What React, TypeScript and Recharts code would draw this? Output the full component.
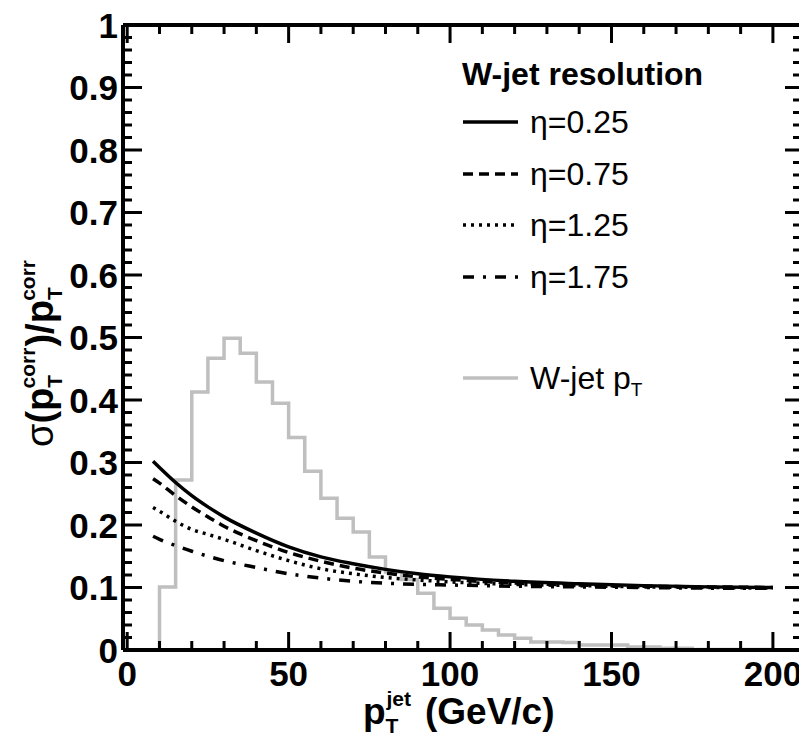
import { ComposedChart, Legend, Line, XAxis, YAxis } from "recharts";

const FONT = '"Liberation Sans", Arial, Helvetica, sans-serif';

// W-jet pT spectrum: lower edge of each 5 GeV/c bin and the grey histogram height
const histBinLow = [
  0, 5, 10, 15, 20, 25, 30, 35, 40, 45, 50, 55, 60, 65, 70, 75, 80, 85, 90, 95,
  100, 105, 110, 115, 120, 125, 130, 135, 140, 145, 150, 155, 160, 165, 170, 175, 180, 185, 190, 195,
];
const histHeight = [
  0, 0, 0.101, 0.272, 0.413, 0.467, 0.499, 0.475, 0.429, 0.395, 0.34, 0.286, 0.243, 0.211, 0.189, 0.149,
  0.125, 0.113, 0.091, 0.067, 0.051, 0.04, 0.032, 0.024, 0.019, 0.013, 0.013, 0.012, 0.008, 0.008, 0.008,
  0.005, 0.005, 0.003, 0.003, 0.001, 0.001, 0.001, 0.001, 0.001,
];
const histEnd = 200;

// resolution curves sigma(pT)/pT vs pT for four eta values
const ptPoints = [8, 10, 15, 20, 25, 30, 40, 50, 60, 70, 80, 90, 100, 120, 140, 160, 180, 200];
const resEta025 = [0.302, 0.292, 0.268, 0.247, 0.229, 0.213, 0.187, 0.165, 0.149, 0.138, 0.129, 0.122, 0.117, 0.11, 0.106, 0.103, 0.101, 0.1];
const resEta075 = [0.274, 0.267, 0.247, 0.229, 0.213, 0.198, 0.175, 0.156, 0.142, 0.131, 0.123, 0.117, 0.113, 0.107, 0.104, 0.102, 0.101, 0.1];
const resEta125 = [0.228, 0.222, 0.206, 0.193, 0.185, 0.177, 0.159, 0.143, 0.13, 0.122, 0.116, 0.112, 0.109, 0.105, 0.103, 0.101, 0.1, 0.099];
const resEta175 = [0.182, 0.177, 0.167, 0.158, 0.15, 0.143, 0.132, 0.122, 0.115, 0.11, 0.107, 0.105, 0.104, 0.102, 0.101, 0.1, 0.099, 0.099];

const seriesNames = ["η=0.25", "η=0.75", "η=1.25", "η=1.75"];
const histName = "W-jet pT";

const xTicks = [0, 10, 20, 30, 40, 50, 60, 70, 80, 90, 100, 110, 120, 130, 140, 150, 160, 170, 180, 190, 200];
const yLabels = ["0", "0.1", "0.2", "0.3", "0.4", "0.5", "0.6", "0.7", "0.8", "0.9", "1"];
const yTicks = Array.from({ length: 51 }, (_, i) => i / 50);

const X_DOMAIN: [number, number] = [-1.3, 208.7];

const histData = [
  ...histBinLow.map((x, i) => ({ x, v: histHeight[i] })),
  { x: histEnd, v: histHeight[histHeight.length - 1] },
];

const curves = [
  { name: seriesNames[0], values: resEta025, dash: undefined },
  { name: seriesNames[1], values: resEta075, dash: "10 6" },
  { name: seriesNames[2], values: resEta125, dash: "3 5" },
  { name: seriesNames[3], values: resEta175, dash: "11 9 3 9" },
];

function isMajorY(v: number) {
  return Math.abs(v * 10 - Math.round(v * 10)) < 1e-6;
}

function BottomTick(props: any) {
  const { x, y, payload } = props;
  const v = payload.value;
  const major = v % 50 === 0;
  return (
    <g>
      <line x1={x} x2={x} y1={y} y2={y - (major ? 18 : 9)} stroke="#000" strokeWidth={3} />
      {major ? (
        <text x={x} y={y + 36} textAnchor="middle" fontFamily={FONT} fontWeight="bold" fontSize={35} fill="#000">
          {v}
        </text>
      ) : null}
    </g>
  );
}

function TopTick(props: any) {
  const { x, y, payload } = props;
  const major = payload.value % 50 === 0;
  return <line x1={x} x2={x} y1={y} y2={y + (major ? 18 : 9)} stroke="#000" strokeWidth={3} />;
}

function LeftTick(props: any) {
  const { x, y, payload } = props;
  const v = payload.value;
  const major = isMajorY(v);
  return (
    <g>
      <line x1={x} x2={x + (major ? 19 : 9)} y1={y} y2={y} stroke="#000" strokeWidth={3} />
      {major ? (
        <text x={x - 5} y={y + 12.5} textAnchor="end" fontFamily={FONT} fontWeight="bold" fontSize={35} fill="#000">
          {yLabels[Math.round(v * 10)]}
        </text>
      ) : null}
    </g>
  );
}

function RightTick(props: any) {
  const { x, y, payload } = props;
  const major = isMajorY(payload.value);
  return <line x1={x} x2={x - (major ? 16 : 8)} y1={y} y2={y} stroke="#000" strokeWidth={3} />;
}

function XTitle() {
  return (
    <text x={363} y={724} fontFamily={FONT} fontWeight="bold" fontSize={37} fill="#000">
      p
      <tspan fontSize={21} dy={9}>T</tspan>
      <tspan fontSize={21} dx={-12} dy={-27}>jet</tspan>
      <tspan dy={18} dx={14}>(GeV/c)</tspan>
    </text>
  );
}

function YTitle() {
  return (
    <text transform="translate(53, 447) rotate(-90)" fontFamily={FONT} fontWeight="bold" fontSize={38} fill="#000">
      <tspan fontWeight="normal">σ</tspan>
      <tspan>(p</tspan>
      <tspan fontSize={21} dy={9}>T</tspan>
      <tspan fontSize={21} dx={-12} dy={-27}>corr</tspan>
      <tspan dy={18} dx={1}>)/p</tspan>
      <tspan fontSize={21} dy={9}>T</tspan>
      <tspan fontSize={21} dx={-12} dy={-27}>corr</tspan>
    </text>
  );
}

const legendOrder = [...seriesNames, histName];

function LegendBox({ payload }: any) {
  const items = legendOrder
    .map((name) => (payload ?? []).find((p: any) => p.value === name))
    .filter(Boolean);
  const rowY = [82, 134, 185, 237, 338];
  return (
    <svg width={340} height={380} style={{ display: "block" }}>
      <text x={22} y={45} fontFamily={FONT} fontWeight="bold" fontSize={32} fill="#000">
        W-jet resolution
      </text>
      {items.map((item: any, i: number) => {
        const y = rowY[i];
        return (
          <g key={item.value}>
            <line
              x1={23}
              x2={78}
              y1={y}
              y2={y}
              stroke={item.color}
              strokeWidth={3.5}
              strokeDasharray={item.payload?.strokeDasharray}
            />
            <text x={90} y={y + 11} fontFamily={FONT} fontSize={32} fill="#000">
              {item.value === histName ? (
                <>
                  W-jet p<tspan fontSize={19} dy={7}>T</tspan>
                </>
              ) : (
                item.value
              )}
            </text>
          </g>
        );
      })}
    </svg>
  );
}

export default function App() {
  return (
    <div
      style={{
        position: "absolute",
        left: 0,
        top: 0,
        width: 799,
        height: 735,
        overflow: "hidden",
        background: "#fff",
      }}
    >
      <ComposedChart width={802} height={735} margin={{ top: 0, right: 0, bottom: 0, left: 0 }}>
        <XAxis
          xAxisId="bottom"
          type="number"
          dataKey="x"
          domain={X_DOMAIN}
          allowDataOverflow
          ticks={xTicks}
          interval={0}
          height={85}
          tickSize={0}
          tickMargin={0}
          axisLine={{ stroke: "#000", strokeWidth: 4 }}
          tickLine={false}
          tick={<BottomTick />}
          label={<XTitle />}
        />
        <XAxis
          xAxisId="top"
          orientation="top"
          type="number"
          dataKey="x"
          domain={X_DOMAIN}
          allowDataOverflow
          ticks={xTicks}
          interval={0}
          height={25}
          tickSize={0}
          tickMargin={0}
          axisLine={{ stroke: "#000", strokeWidth: 4 }}
          tickLine={false}
          tick={<TopTick />}
        />
        <YAxis
          yAxisId="left"
          type="number"
          domain={[0, 1]}
          allowDataOverflow
          ticks={yTicks}
          interval={0}
          width={123}
          tickSize={0}
          tickMargin={0}
          axisLine={{ stroke: "#000", strokeWidth: 4 }}
          tickLine={false}
          tick={<LeftTick />}
          label={<YTitle />}
        />
        <YAxis
          yAxisId="right"
          orientation="right"
          type="number"
          domain={[0, 1]}
          allowDataOverflow
          ticks={yTicks}
          interval={0}
          width={1}
          tickSize={0}
          tickMargin={0}
          axisLine={false}
          tickLine={false}
          tick={<RightTick />}
        />
        <Legend
          layout="vertical"
          align="center"
          verticalAlign="middle"
          content={<LegendBox />}
          wrapperStyle={{ left: 440, top: 40, width: 340, height: 380 }}
        />
        <Line
          xAxisId="bottom"
          yAxisId="left"
          name={histName}
          data={histData}
          dataKey="v"
          type="stepAfter"
          stroke="#bfbfbf"
          strokeWidth={3.5}
          dot={false}
          activeDot={false}
          isAnimationActive={false}
        />
        {curves.map((c) => (
          <Line
            key={c.name}
            xAxisId="bottom"
            yAxisId="left"
            name={c.name}
            data={ptPoints.map((x, i) => ({ x, v: c.values[i] }))}
            dataKey="v"
            type="monotone"
            stroke="#000"
            strokeWidth={3.5}
            strokeDasharray={c.dash}
            dot={false}
            activeDot={false}
            isAnimationActive={false}
          />
        ))}
      </ComposedChart>
    </div>
  );
}
